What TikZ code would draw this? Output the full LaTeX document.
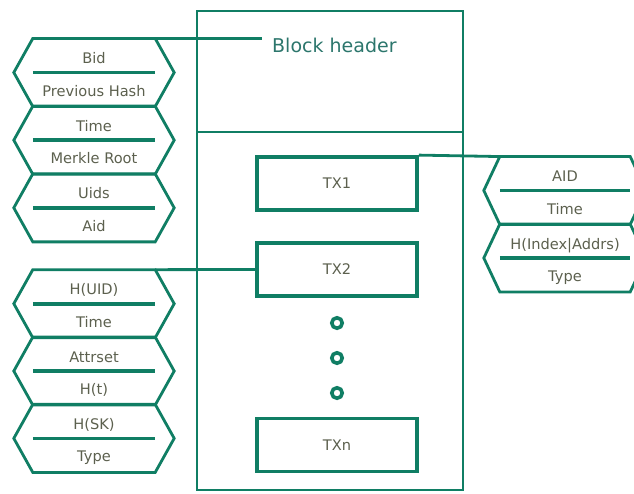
\documentclass[tikz,border=0pt]{standalone}
\usepackage{fontspec}
\setmainfont{DejaVu Sans}
\usetikzlibrary{positioning}

\definecolor{tealline}{RGB}{16,126,100}
\definecolor{hdrteal}{RGB}{44,118,108}
\definecolor{txtgray}{RGB}{92,96,78}

\begin{document}
\begin{tikzpicture}[x=1pt, y=-1pt, node distance=67.67pt,
    every node/.style={font=\fontsize{14.6}{16}\selectfont, text=txtgray},
    cell/.style={minimum width=122pt, minimum height=67.67pt, inner sep=0pt},
    rcell/.style={minimum width=130pt, minimum height=67.5pt, inner sep=0pt},
    part/.style={draw=tealline, line width=2.8pt, inner sep=0pt},
    tx/.style={draw=tealline, line width=3.8pt, minimum width=160pt, minimum height=53pt, inner sep=0pt},
    dot/.style={circle, draw=tealline, line width=3.6pt, minimum size=10.5pt, inner sep=0pt},
    link/.style={draw=tealline, line width=2.8pt}]

  \useasboundingbox (0,0) rectangle (634,493);

  % the block
  \node[part, minimum width=266pt, minimum height=121pt] (head) at (330,71.5) {};
  \node[part, minimum width=266pt, minimum height=358pt] (body) at (330,311) {};
  \node[anchor=west, inner xsep=10pt, inner ysep=0pt, text=hdrteal,
        font=\fontsize{19}{22}\selectfont] (hdr) at (262,45) {Block header};

  \node[tx] (tx1) at (337,183.5) {TX1};
  \node[tx, below of=tx1, node distance=86pt] (tx2) {TX2};
  \node[dot, below of=tx2, node distance=53.5pt] (d1) {};
  \node[dot, below of=d1, node distance=35pt] (d2) {};
  \node[dot, below of=d2, node distance=35pt] (d3) {};
  \node[tx, below of=tx2, node distance=175.5pt] (txn) {TXn};

  % header fields
  \node[cell] (b1) at (94,72.5) {};
  \node[cell, below of=b1] (b2) {};
  \node[cell, below of=b2] (b3) {};

  % tx fields
  \node[cell] (u1) at (94,303.7) {};
  \node[cell, below of=u1, node distance=67.33pt] (u2) {};
  \node[cell, below of=u2, node distance=67.33pt] (u3) {};

  \node[rcell] (a1) at (565,190.5) {};
  \node[rcell, below of=a1, node distance=67.5pt] (a2) {};

  \foreach \h/\s in {b1/19,b2/19,b3/19,u1/19,u2/19,u3/19,a1/16,a2/16} {
    \draw[link, line join=miter] (\h.north west) -- (\h.north east)
      -- ([xshift=\s pt]\h.east) -- (\h.south east) -- (\h.south west)
      -- ([xshift=-\s pt]\h.west) -- cycle;
    \draw[link, line width=3.6pt] (\h.west) -- (\h.east);
  }

  \foreach \h/\a/\b in {b1/Bid/Previous Hash, b2/Time/Merkle Root, b3/Uids/Aid,
      u1/H(UID)/Time, u2/Attrset/H(t), u3/H(SK)/Type,
      a1/AID/Time, a2/H(Index|Addrs)/Type} {
    \node[anchor=base] (\h-top) at ([yshift=9pt]\h.center) {\a};
    \node[anchor=base] (\h-bot) at ([yshift=-23.5pt]\h.center) {\b};
  }

  \path[link]
    (b1.north east) edge (hdr.west |- b1.north east)
    (u1.north east) edge (tx2.west)
    (tx1.north east) edge (a1.north west);

\end{tikzpicture}
\end{document}
